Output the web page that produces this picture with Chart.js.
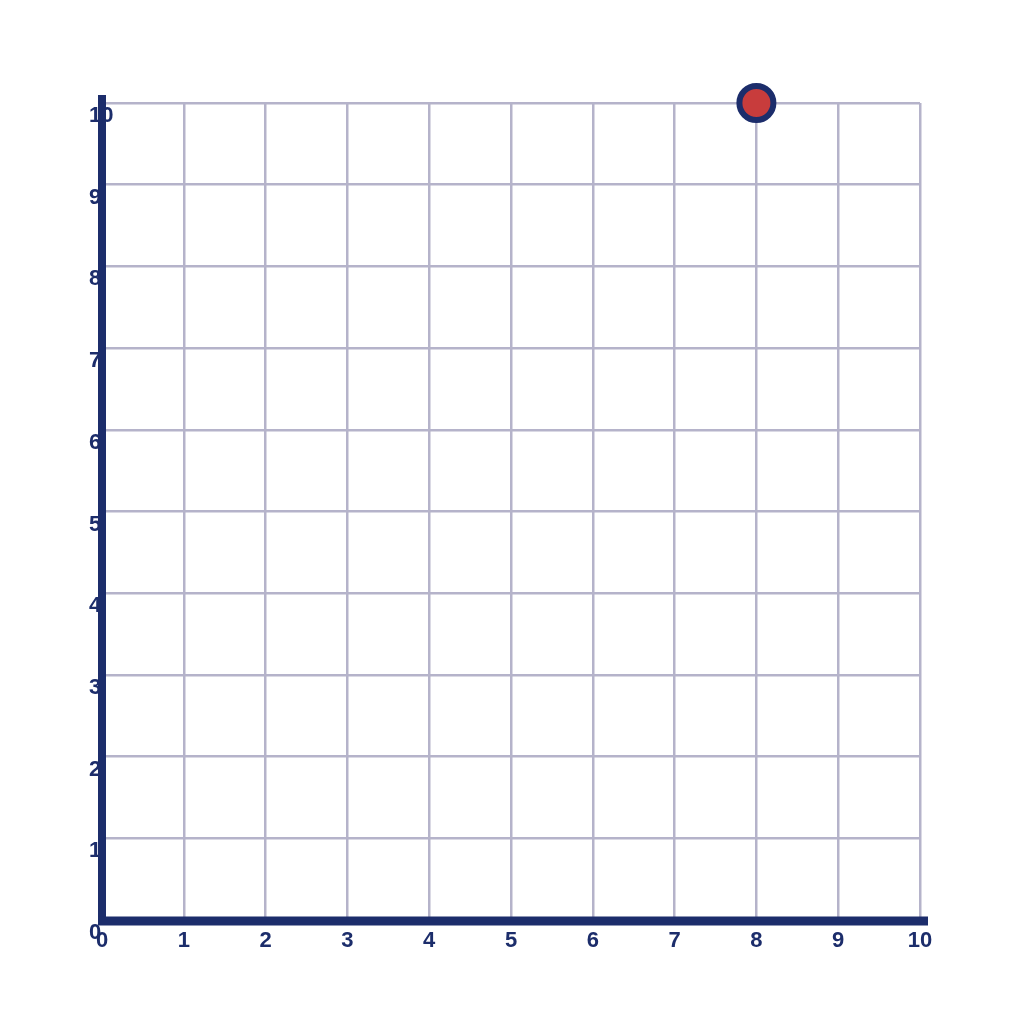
<!DOCTYPE html>
<html>
<head>
<meta charset="utf-8">
<script src="https://cdn.jsdelivr.net/npm/chart.js@4.4.1/dist/chart.umd.min.js"></script>
<style>
  html, body { margin: 0; padding: 0; background: #fff; }
  #wrap { width: 1024px; height: 1024px; }
</style>
</head>
<body>
<div id="wrap"><canvas id="c"></canvas></div>
<script>
// data
const xTicks = [0, 1, 2, 3, 4, 5, 6, 7, 8, 9, 10];
const yTicks = [0, 1, 2, 3, 4, 5, 6, 7, 8, 9, 10];
const pointX = [8];
const pointY = [10];

const NAVY = '#1c2d6b';
const GRID = '#b5b3ca';

// axis lines + tick labels drawn on top of the scales
const axesPlugin = {
  id: 'axes',
  afterDatasetsDraw(chart) {
    const { ctx, scales: { x, y } } = chart;
    ctx.save();
    ctx.font = "bold 22px 'Liberation Sans', Arial, sans-serif";
    ctx.fillStyle = NAVY;
    // y labels sit under the axis line
    ctx.textAlign = 'left'; ctx.textBaseline = 'middle';
    yTicks.forEach(v => ctx.fillText(String(v), x.getPixelForValue(0) - 13, y.getPixelForValue(v) + 13));
    ctx.textAlign = 'center';
    xTicks.forEach(v => ctx.fillText(String(v), x.getPixelForValue(v), y.getPixelForValue(0) + 21));
    ctx.strokeStyle = NAVY;
    ctx.lineWidth = 8;
    ctx.beginPath();
    ctx.moveTo(x.getPixelForValue(0), y.getPixelForValue(10) - 8);
    ctx.lineTo(x.getPixelForValue(0), y.getPixelForValue(0) + 4);
    ctx.stroke();
    ctx.lineWidth = 9;
    ctx.beginPath();
    ctx.moveTo(x.getPixelForValue(0) - 4, y.getPixelForValue(0) + 1);
    ctx.lineTo(x.getPixelForValue(10) + 8, y.getPixelForValue(0) + 1);
    ctx.stroke();
    ctx.restore();
  }
};

new Chart(document.getElementById('c'), {
  type: 'scatter',
  data: {
    datasets: [{
      data: pointX.map((v, i) => ({ x: v, y: pointY[i] })),
      backgroundColor: '#c83c3c',
      borderColor: NAVY,
      borderWidth: 6,
      pointRadius: 17,
      pointHoverRadius: 17,
      clip: false
    }]
  },
  options: {
    responsive: true, maintainAspectRatio: false, animation: false,
    layout: { padding: { left: 102, top: 103, right: 104, bottom: 104 } },
    plugins: { legend: { display: false }, tooltip: { enabled: false } },
    scales: {
      x: { type: 'linear', min: 0, max: 10,
        grid: { color: GRID, lineWidth: 2.5, drawTicks: false },
        border: { display: false },
        ticks: { display: false, stepSize: 1 } },
      y: { type: 'linear', min: 0, max: 10,
        grid: { color: GRID, lineWidth: 2.5, drawTicks: false },
        border: { display: false },
        ticks: { display: false, stepSize: 1 } }
    }
  },
  plugins: [axesPlugin]
});
</script>
</body>
</html>
